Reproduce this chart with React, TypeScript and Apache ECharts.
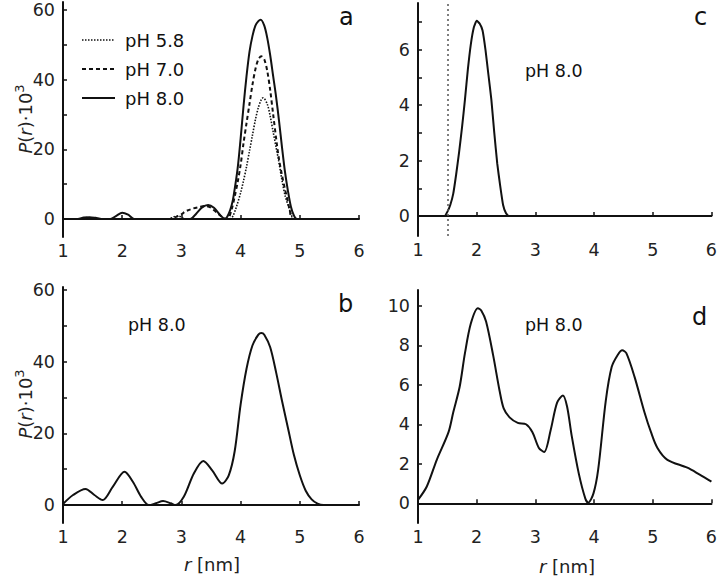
import React, { useEffect, useRef } from "react";
import * as echarts from "echarts";

// Panel a: pH series [r, P(r)*1e3]
const aPH58: [number, number][] = [
  [1.0, 0], [2.8, 0], [2.87, 0.6], [2.95, 0.8], [3.0, 0.5], [3.05, 0], [3.82, 0], [3.87, 0.8], [3.93, 3.5],
  [4.0, 7.5], [4.05, 11], [4.1, 15], [4.15, 19.5], [4.2, 24], [4.25, 28.5], [4.3, 32], [4.35, 34.3],
  [4.38, 34.8], [4.45, 33], [4.5, 29.5], [4.55, 25], [4.6, 20.5], [4.64, 17], [4.7, 11], [4.75, 6.8],
  [4.81, 3.5], [4.85, 1.5], [4.9, 0], [6.0, 0],
];
const aPH70: [number, number][] = [
  [1.0, 0], [1.3, 0], [1.4, 0.3], [1.5, 0.2], [1.6, 0], [2.8, 0], [2.9, 0.5], [3.0, 1.3], [3.06, 2.1], [3.1, 2.4],
  [3.2, 3.0], [3.3, 3.4], [3.4, 3.7], [3.5, 3.2], [3.6, 1.8], [3.7, 0.4], [3.78, 0], [3.85, 2.8], [3.9, 6.4],
  [3.95, 10.5], [4.0, 15.5], [4.05, 21.8], [4.1, 27.5], [4.15, 33], [4.2, 38.5], [4.25, 43], [4.3, 45.8],
  [4.35, 46.7], [4.4, 45.8], [4.45, 42.5], [4.5, 37], [4.55, 30], [4.61, 21.8], [4.65, 17], [4.7, 12.5],
  [4.75, 8.5], [4.78, 6.4], [4.83, 2.5], [4.88, 0], [6.0, 0],
];
const aPH80: [number, number][] = [
  [1.0, 0], [1.25, 0], [1.35, 0.4], [1.45, 0.5], [1.55, 0.3], [1.65, 0], [1.8, 0], [1.9, 0.9], [2.0, 1.8],
  [2.1, 1.2], [2.2, 0], [3.15, 0], [3.25, 1.5], [3.35, 3.3], [3.45, 4.0], [3.55, 3.2], [3.65, 1.2], [3.74, 0],
  [3.8, 1.5], [3.85, 4], [3.88, 6.4], [3.95, 14.5], [4.0, 23], [4.05, 32.5], [4.1, 41], [4.15, 48],
  [4.2, 52.5], [4.25, 55.5], [4.3, 56.8], [4.34, 57.2], [4.4, 55.5], [4.45, 52], [4.5, 47], [4.55, 41],
  [4.6, 35], [4.65, 28], [4.7, 20.5], [4.75, 13.5], [4.8, 8], [4.85, 3.5], [4.9, 1], [4.95, 0], [6.0, 0],
];
// Panel b
const bPH80: [number, number][] = [
  [1.0, 0.3], [1.17, 2.8], [1.38, 4.5], [1.53, 2.8], [1.67, 1.4], [1.84, 5.1], [2.04, 9.3], [2.18, 6.5],
  [2.32, 2.3], [2.45, 0], [2.57, 0.5], [2.69, 1.1], [2.82, 0.5], [2.9, 0], [3.04, 2.3], [3.21, 8.8],
  [3.37, 12.3], [3.52, 9.7], [3.69, 6.0], [3.8, 8.3], [3.9, 15], [4.0, 28], [4.1, 38], [4.2, 44.5],
  [4.3, 47.5], [4.35, 48], [4.4, 47.5], [4.5, 44], [4.6, 37], [4.7, 29], [4.8, 21.5], [4.9, 14],
  [5.0, 8.3], [5.1, 4], [5.2, 1.6], [5.3, 0.4], [5.4, 0], [6.0, 0],
];
// Panel c
const cPH80: [number, number][] = [
  [1.0, 0], [1.45, 0], [1.5, 0.15], [1.55, 0.4], [1.6, 0.8], [1.65, 1.5], [1.7, 2.3], [1.75, 3.2],
  [1.8, 4.2], [1.85, 5.3], [1.9, 6.2], [1.95, 6.8], [2.0, 7.05], [2.05, 6.95], [2.1, 6.7], [2.15, 6.0],
  [2.2, 5.1], [2.25, 4.2], [2.3, 3.0], [2.35, 1.9], [2.4, 1.1], [2.45, 0.4], [2.5, 0.1], [2.55, 0], [6.0, 0],
];
// Panel d
const dPH80: [number, number][] = [
  [1.0, 0.17], [1.15, 0.85], [1.32, 2.2], [1.52, 3.6], [1.6, 4.6], [1.71, 5.9], [1.8, 7.6], [1.9, 9.1],
  [2.02, 9.88], [2.08, 9.75], [2.16, 9.2], [2.28, 7.5], [2.39, 5.7], [2.46, 4.8], [2.56, 4.35], [2.7, 4.07],
  [2.84, 4.0], [2.95, 3.6], [3.06, 2.8], [3.15, 2.6], [3.26, 3.7], [3.37, 5.1], [3.47, 5.46], [3.54, 4.9],
  [3.62, 3.4], [3.74, 1.5], [3.85, 0.25], [3.9, 0.03], [3.99, 0.5], [4.07, 1.7], [4.2, 5.2], [4.3, 6.9],
  [4.4, 7.5], [4.48, 7.75], [4.55, 7.6], [4.69, 6.4], [4.86, 4.6], [4.97, 3.6], [5.08, 2.8], [5.25, 2.2],
  [5.59, 1.8], [5.8, 1.45], [6.0, 1.1],
];

const xTicks = [1, 2, 3, 4, 5, 6];
const yLabelsAB = [0, 20, 40, 60];
const yTicksAB = [0, 10, 20, 30, 40, 50, 60];
const yLabelsC = [0, 2, 4, 6];
const yTicksC = [0, 1, 2, 3, 4, 5, 6, 7];
const yLabelsD = [0, 2, 4, 6, 8, 10];
const legendNames = ["pH 5.8", "pH 7.0", "pH 8.0"];
const panelLetters = ["a", "b", "c", "d"];

const FONT = "DejaVu Sans";
const INK = "#111";

export default function App() {
  const ref = useRef<HTMLDivElement>(null);
  useEffect(() => {
    if (!ref.current) return;
    const chart = echarts.init(ref.current, undefined, { renderer: "svg" });
    const grids = [
      { left: 63, top: 2, width: 296, height: 235 },
      { left: 63, top: 287, width: 296, height: 236 },
      { left: 418, top: 3, width: 296, height: 233 },
      { left: 418, top: 290, width: 296, height: 233 },
    ];
    const yRanges = [
      { min: -5.2, max: 62.3, labels: yLabelsAB, ticks: yTicksAB },
      { min: -5.0, max: 60.8, labels: yLabelsAB, ticks: yTicksAB },
      { min: -0.72, max: 7.69, labels: yLabelsC, ticks: yTicksC },
      { min: -1.0, max: 10.8, labels: yLabelsD, ticks: yLabelsD },
    ];
    const axisLine = { show: true, lineStyle: { color: INK, width: 2 } };
    const labelStyle = { fontFamily: FONT, fontSize: 17.5, color: "#222" };
    const xAxis = grids.map((_, i) => ({
      type: "value",
      gridIndex: i,
      min: 1,
      max: 6,
      interval: 1,
      axisLine,
      axisTick: { show: true, inside: true, length: 4, customValues: xTicks, lineStyle: { color: INK, width: 1.5 } },
      axisLabel: { ...labelStyle, margin: 5, customValues: xTicks },
      splitLine: { show: false },
    }));
    const yAxis = yRanges.map((r, i) => ({
      type: "value",
      gridIndex: i,
      min: r.min,
      max: r.max,
      axisLine,
      axisTick: { show: true, inside: true, length: 4, customValues: r.ticks, lineStyle: { color: INK, width: 1.5 } },
      axisLabel: { ...labelStyle, margin: 8, customValues: r.labels },
      splitLine: { show: false },
    }));
    const line = (data: [number, number][], xi: number, dash: any, width: number, name: string, extra: any = {}) => ({
      type: "line",
      name,
      xAxisIndex: xi,
      yAxisIndex: xi,
      data,
      smooth: 0.3,
      showSymbol: false,
      symbol: "none",
      lineStyle: { color: INK, width, type: dash },
      z: 3,
      ...extra,
    });
    const series = [
      line(aPH58, 0, [1.5, 1.5], 1.6, legendNames[0]),
      line(aPH70, 0, [4, 3], 2, legendNames[1]),
      line(aPH80, 0, "solid", 2, legendNames[2]),
      line(bPH80, 1, "solid", 2, "b"),
      line(cPH80, 2, "solid", 2, "c", {
        smooth: 0.15,
        markLine: {
          silent: true,
          symbol: ["none", "none"],
          label: { show: false },
          lineStyle: { color: "#555", width: 1.5, type: [2, 3] },
          data: [{ xAxis: 1.5 }],
        },
      }),
      line(dPH80, 3, "solid", 2, "d"),
    ];
    const yTitle = (y: number) => ({
      type: "text",
      x: 25,
      y,
      rotation: Math.PI / 2,
      style: {
        text: "{i|P}({i|r})·10{s|3}",
        fontFamily: FONT,
        fontSize: 18,
        fill: "#222",
        align: "center",
        verticalAlign: "middle",
        rich: {
          i: { fontStyle: "italic", fontFamily: FONT, fontSize: 18, fill: "#222" },
          s: { fontFamily: FONT, fontSize: 13, fill: "#222", verticalAlign: "top", lineHeight: 24 },
        },
      },
    });
    const xTitle = (x: number, y: number) => ({
      type: "text",
      x,
      y,
      style: {
        text: "{i|r} [nm]",
        fontFamily: FONT,
        fontSize: 18,
        fill: "#222",
        align: "center",
        verticalAlign: "middle",
        rich: { i: { fontStyle: "italic", fontFamily: FONT, fontSize: 18, fill: "#222" } },
      },
    });
    const txt = (x: number, y: number, text: string, size: number, va = "middle") => ({
      type: "text",
      x,
      y,
      style: { text, fontFamily: FONT, fontSize: size, fill: "#111", align: "left", verticalAlign: va },
    });
    const legendDash = [[1.5, 1.5], [4, 3], null];
    const legendY = [40, 69, 98];
    const legendItems: any[] = [];
    legendNames.forEach((n, i) => {
      legendItems.push({
        type: "line",
        shape: { x1: 82, y1: legendY[i], x2: 115, y2: legendY[i] },
        style: { stroke: INK, lineWidth: i === 0 ? 1.6 : 2, lineDash: legendDash[i] },
      });
      legendItems.push(txt(125, legendY[i], n, 18));
    });
    chart.setOption({
      animation: false,
      backgroundColor: "#fff",
      grid: grids,
      xAxis,
      yAxis,
      series,
      graphic: [
        yTitle(119),
        yTitle(404),
        xTitle(212, 564),
        xTitle(567, 566),
        txt(339, 29, panelLetters[0], 24, "bottom"),
        txt(338, 316, panelLetters[1], 24, "bottom"),
        txt(694, 29, panelLetters[2], 24, "bottom"),
        txt(692, 329, panelLetters[3], 24, "bottom"),
        txt(525, 71, "pH 8.0", 17.5),
        txt(128, 325, "pH 8.0", 17.5),
        txt(525, 325, "pH 8.0", 17.5),
        ...legendItems,
      ],
    });
    return () => chart.dispose();
  }, []);
  return <div ref={ref} style={{ position: "absolute", left: 0, top: 0, width: 720, height: 577 }} />;
}
